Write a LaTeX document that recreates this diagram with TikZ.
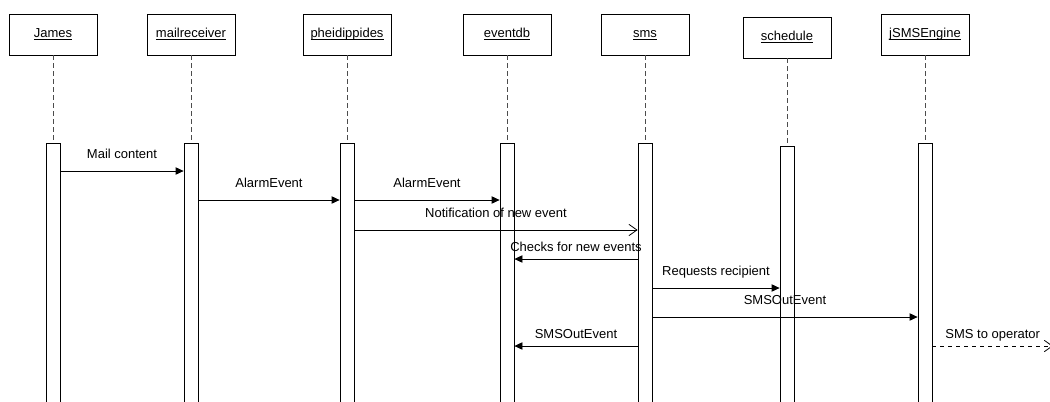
\documentclass[tikz,border=0pt]{standalone}
\usepackage{fontspec}
\setmainfont{Liberation Sans}
\usetikzlibrary{arrows.meta}

\newcommand{\objname}[1]{\underline{\vphantom{A}\smash{#1}}}

\begin{document}
\begin{tikzpicture}[x=0.75pt, y=-0.75pt, line width=0.6pt,
    font=\fontsize{9.75}{11}\selectfont,
    object/.style={draw, rectangle, minimum width=66pt, minimum height=30.75pt, inner sep=0pt},
    bar/.style={draw, rectangle, fill=white, anchor=north, minimum width=10.5pt, minimum height=201pt, inner sep=0pt},
    lifeline/.style={black!70, dash pattern=on 3.75pt off 2.25pt},
    sync/.style={-{Triangle[length=6pt, width=5.5pt]}},
    async/.style={-{Straight Barb[length=6pt, width=8.5pt]}},
    msg/.style={midway, above=9.4pt, inner sep=0pt, text depth=0pt},
    backmsg/.style={midway, above=5.2pt, inner sep=0pt, text depth=0pt}]

    \useasboundingbox (0,0) rectangle (1050,401);
    \clip (0,0) rectangle (1050,401);

    % Objects
    \node[object] (james) at (53,34.5) {\objname{James}};
    \node[object] (mailreceiver) at (191,34.5) {\objname{mailreceiver}};
    \node[object] (pheidippides) at (347,34.5) {\objname{pheidippides}};
    \node[object] (eventdb) at (507,34.5) {\objname{eventdb}};
    \node[object] (sms) at (645,34.5) {\objname{sms}};
    \node[object] (schedule) at (787,37.5) {\objname{schedule}};
    \node[object] (jsmsengine) at (925,34.5) {\objname{jSMSEngine}};

    % Activation bars
    \node[bar] (jamesbar) at (53,143) {};
    \node[bar] (mailreceiverbar) at (191,143) {};
    \node[bar] (pheidippidesbar) at (347,143) {};
    \node[bar] (eventdbbar) at (507,143) {};
    \node[bar] (smsbar) at (645,143) {};
    \node[bar] (schedulebar) at (787,146) {};
    \node[bar] (jsmsenginebar) at (925,143) {};

    % Lifelines
    \draw[lifeline] (james) -- (jamesbar);
    \draw[lifeline] (mailreceiver) -- (mailreceiverbar);
    \draw[lifeline] (pheidippides) -- (pheidippidesbar);
    \draw[lifeline] (eventdb) -- (eventdbbar);
    \draw[lifeline] (sms) -- (smsbar);
    \draw[lifeline] (schedule) -- (schedulebar);
    \draw[lifeline] (jsmsengine) -- (jsmsenginebar);

    % Messages
    \draw[sync] (jamesbar.east |- 0,171) -- node[msg] {Mail content} (mailreceiverbar.west |- 0,171);
    \draw[sync] (mailreceiverbar.east |- 0,200) -- node[msg] {AlarmEvent} (pheidippidesbar.west |- 0,200);
    \draw[sync] (pheidippidesbar.east |- 0,200) -- node[msg] {AlarmEvent} (eventdbbar.west |- 0,200);
    \draw[async] (pheidippidesbar.east |- 0,230) -- node[msg] {Notification of new event} (smsbar.west |- 0,230);
    \draw[sync] (smsbar.west |- 0,259) -- node[backmsg] {Checks for new events} (eventdbbar.east |- 0,259);
    \draw[sync] (smsbar.east |- 0,288) -- node[msg] {Requests recipient} (schedulebar.west |- 0,288);
    \draw[sync] (smsbar.east |- 0,317) -- node[msg] {SMSOutEvent} (jsmsenginebar.west |- 0,317);
    \draw[sync] (smsbar.west |- 0,346) -- node[backmsg] {SMSOutEvent} (eventdbbar.east |- 0,346);

    % Outgoing SMS
    \coordinate (operator) at (1053,346);
    \draw[async, dashed] (jsmsenginebar.east |- 0,346) -- node[backmsg] {SMS to operator} (operator);
\end{tikzpicture}
\end{document}
